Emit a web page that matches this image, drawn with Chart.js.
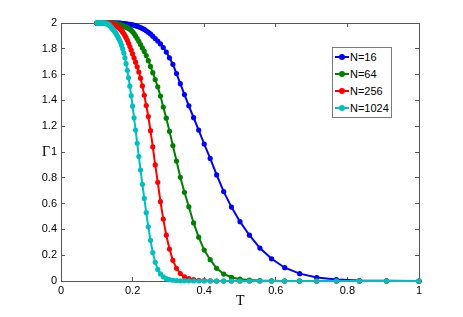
<!DOCTYPE html>
<html lang="en">
<head>
<meta charset="UTF-8">
<title>Gamma vs T</title>
<script src="https://cdn.jsdelivr.net/npm/chart.js"></script>
<style>
    body { margin: 0; background: #fff; }
    #wrap { position: relative; width: 463px; height: 317px; }
    .axis-title { position: absolute; font-family: 'Liberation Serif', serif; font-size: 14px; color: #000; line-height: 14px; }
    #legend { position: absolute; left: 332px; top: 47px; width: 58px; height: 69px; border: 1px solid #7a7a7a; background: #fff;
              font-family: 'Liberation Sans', Arial, sans-serif; font-size: 11px; color: #000; }
    .item { position: absolute; left: 2px; height: 12px; line-height: 12px; }
    .sw { position: absolute; left: 0; top: 5px; width: 14px; height: 2px; }
    .sw i { position: absolute; left: 4px; top: -2px; width: 6px; height: 6px; border-radius: 50%; background: inherit; }
    .item span { position: absolute; left: 15px; top: 0; white-space: nowrap; }
</style>
</head>
<body>
<div id="wrap">
    <canvas id="gammaChart" width="463" height="317"></canvas>
    <div class="axis-title" style="left:42px; top:145px;">Γ</div>
    <div class="axis-title" style="left:236px; top:294px;">T</div>
    <div id="legend"></div>
</div>
<script>
// temperature grid (1/beta, beta = 10 ... 1)
const temps = [
    0.1000, 0.1010, 0.1020, 0.1031, 0.1042, 0.1053, 0.1064, 0.1075, 0.1087, 0.1099,
    0.1111, 0.1124, 0.1136, 0.1149, 0.1163, 0.1176, 0.1190, 0.1205, 0.1220, 0.1235,
    0.1250, 0.1266, 0.1282, 0.1299, 0.1316, 0.1333, 0.1351, 0.1370, 0.1389, 0.1408,
    0.1429, 0.1449, 0.1471, 0.1493, 0.1515, 0.1538, 0.1563, 0.1587, 0.1613, 0.1639,
    0.1667, 0.1695, 0.1724, 0.1754, 0.1786, 0.1818, 0.1852, 0.1887, 0.1923, 0.1961,
    0.2000, 0.2041, 0.2083, 0.2128, 0.2174, 0.2222, 0.2273, 0.2326, 0.2381, 0.2439,
    0.2500, 0.2564, 0.2632, 0.2703, 0.2778, 0.2857, 0.2941, 0.3030, 0.3125, 0.3226,
    0.3333, 0.3448, 0.3571, 0.3704, 0.3846, 0.4000, 0.4167, 0.4348, 0.4545, 0.4762,
    0.5000, 0.5263, 0.5556, 0.5882, 0.6250, 0.6667, 0.7143, 0.7692, 0.8333, 0.9091,
    1.0000
];

const gammaN16 = [
    2.000, 2.000, 2.000, 2.000, 2.000, 2.000, 2.000, 2.000, 2.000, 2.000,
    2.000, 2.000, 2.000, 2.000, 2.000, 2.000, 2.000, 2.000, 2.000, 2.000,
    2.000, 2.000, 2.000, 2.000, 2.000, 2.000, 2.000, 2.000, 2.000, 2.000,
    2.000, 2.000, 2.000, 2.000, 2.000, 2.000, 2.000, 2.000, 1.999, 1.999,
    1.998, 1.997, 1.996, 1.995, 1.994, 1.993, 1.992, 1.990, 1.989, 1.987,
    1.985, 1.982, 1.979, 1.975, 1.970, 1.965, 1.958, 1.950, 1.940, 1.928,
    1.915, 1.898, 1.880, 1.860, 1.838, 1.810, 1.775, 1.730, 1.680, 1.608,
    1.530, 1.445, 1.358, 1.266, 1.170, 1.062, 0.950, 0.822, 0.693, 0.573,
    0.460, 0.355, 0.255, 0.172, 0.103, 0.057, 0.027, 0.011, 0.004, 0.001,
    0.000
];

const gammaN64 = [
    2.000, 2.000, 2.000, 2.000, 2.000, 2.000, 2.000, 2.000, 2.000, 2.000,
    2.000, 2.000, 2.000, 2.000, 2.000, 2.000, 2.000, 2.000, 2.000, 2.000,
    2.000, 2.000, 2.000, 2.000, 2.000, 2.000, 2.000, 2.000, 2.000, 2.000,
    1.999, 1.999, 1.998, 1.997, 1.996, 1.995, 1.993, 1.991, 1.989, 1.987,
    1.984, 1.982, 1.979, 1.976, 1.972, 1.968, 1.964, 1.959, 1.952, 1.944,
    1.932, 1.917, 1.900, 1.880, 1.858, 1.833, 1.807, 1.780, 1.748, 1.708,
    1.663, 1.615, 1.562, 1.505, 1.434, 1.349, 1.262, 1.160, 1.050, 0.930,
    0.804, 0.688, 0.575, 0.450, 0.340, 0.240, 0.165, 0.098, 0.054, 0.029,
    0.014, 0.007, 0.003, 0.001, 0.000, 0.000, 0.000, 0.000, 0.000, 0.000,
    0.000
];

const gammaN256 = [
    2.000, 2.000, 2.000, 2.000, 2.000, 2.000, 2.000, 2.000, 2.000, 2.000,
    2.000, 2.000, 2.000, 2.000, 2.000, 2.000, 2.000, 2.000, 2.000, 2.000,
    2.000, 2.000, 2.000, 2.000, 2.000, 1.999, 1.998, 1.997, 1.996, 1.995,
    1.993, 1.991, 1.989, 1.986, 1.983, 1.979, 1.975, 1.970, 1.965, 1.958,
    1.950, 1.940, 1.929, 1.916, 1.902, 1.886, 1.866, 1.843, 1.818, 1.790,
    1.760, 1.729, 1.696, 1.660, 1.620, 1.572, 1.512, 1.440, 1.360, 1.275,
    1.165, 1.040, 0.900, 0.765, 0.615, 0.480, 0.355, 0.248, 0.160, 0.098,
    0.058, 0.032, 0.018, 0.010, 0.005, 0.003, 0.001, 0.000, 0.000, 0.000,
    0.000, 0.000, 0.000, 0.000, 0.000, 0.000, 0.000, 0.000, 0.000, 0.000,
    0.000
];

const gammaN1024 = [
    2.000, 2.000, 2.000, 2.000, 2.000, 2.000, 2.000, 2.000, 2.000, 2.000,
    2.000, 2.000, 2.000, 2.000, 2.000, 2.000, 2.000, 2.000, 2.000, 2.000,
    1.998, 1.997, 1.995, 1.993, 1.990, 1.987, 1.983, 1.978, 1.972, 1.966,
    1.959, 1.952, 1.945, 1.937, 1.928, 1.918, 1.906, 1.893, 1.879, 1.864,
    1.847, 1.826, 1.800, 1.768, 1.730, 1.685, 1.633, 1.575, 1.510, 1.437,
    1.355, 1.265, 1.170, 1.068, 0.965, 0.860, 0.750, 0.640, 0.530, 0.420,
    0.315, 0.220, 0.145, 0.090, 0.055, 0.032, 0.018, 0.010, 0.006, 0.003,
    0.002, 0.001, 0.001, 0.000, 0.000, 0.000, 0.000, 0.000, 0.000, 0.000,
    0.000, 0.000, 0.000, 0.000, 0.000, 0.000, 0.000, 0.000, 0.000, 0.000,
    0.000
];

const seriesNames = ['N=16', 'N=64', 'N=256', 'N=1024'];
const seriesValues = [gammaN16, gammaN64, gammaN256, gammaN1024];
const colors = ['#0000ff', '#008000', '#ff0000', '#00bfbf'];

const xTicks = [0, 0.2, 0.4, 0.6, 0.8, 1];
const yTicks = [0, 0.2, 0.4, 0.6, 0.8, 1, 1.2, 1.4, 1.6, 1.8, 2];

const tickFont = { family: 'Liberation Sans', size: 11 };
const axisColor = '#555555';

function fmt(v) {
    return String(Number(v.toFixed(1)));
}

function axis(pos, ticks, min, max, size, showLabels) {
    const horiz = pos === 'bottom' || pos === 'top';
    return {
        type: 'linear',
        axis: horiz ? 'x' : 'y',
        position: pos,
        min: min,
        max: max,
        afterBuildTicks: s => { s.ticks = ticks.map(v => ({ value: v })); },
        afterFit: s => { if (horiz) s.height = size; else s.width = size; },
        ticks: {
            display: showLabels,
            color: '#000',
            font: tickFont,
            padding: horiz ? 7 : 8,
            maxRotation: 0,
            autoSkip: false,
            callback: v => fmt(v)
        },
        grid: { drawOnChartArea: false, drawTicks: true, tickLength: -4, color: axisColor, lineWidth: 1 },
        border: { display: true, color: axisColor, width: 1 }
    };
}

const datasets = seriesNames.map((name, k) => ({
    label: name,
    data: temps.map((t, i) => ({ x: t, y: seriesValues[k][i] })),
    borderColor: colors[k],
    backgroundColor: colors[k],
    pointBackgroundColor: colors[k],
    pointBorderColor: colors[k],
    borderWidth: 2,
    pointRadius: 2.6,
    pointBorderWidth: 0,
    showLine: true,
    tension: 0,
    clip: false,
    order: seriesNames.length - k
}));

new Chart(document.getElementById('gammaChart'), {
    type: 'scatter',
    data: { datasets: datasets },
    options: {
        responsive: false,
        animation: false,
        layout: { padding: { top: 23, right: 44, left: 0, bottom: 0 } },
        plugins: { legend: { display: false }, tooltip: { enabled: false } },
        scales: {
            x: axis('bottom', xTicks, 0, 1, 36, true),
            y: axis('left', yTicks, 0, 2, 61, true),
            x2: axis('top', xTicks, 0, 1, 0, false),
            y2: axis('right', yTicks, 0, 2, 0, false)
        }
    }
});

// legend box
const legend = document.getElementById('legend');
seriesNames.forEach((name, k) => {
    const item = document.createElement('div');
    item.className = 'item';
    item.style.top = (3 + k * 17) + 'px';
    item.innerHTML = '<div class="sw" style="background:' + colors[k] + '"><i></i></div><span>' + name + '</span>';
    legend.appendChild(item);
});
</script>
</body>
</html>
